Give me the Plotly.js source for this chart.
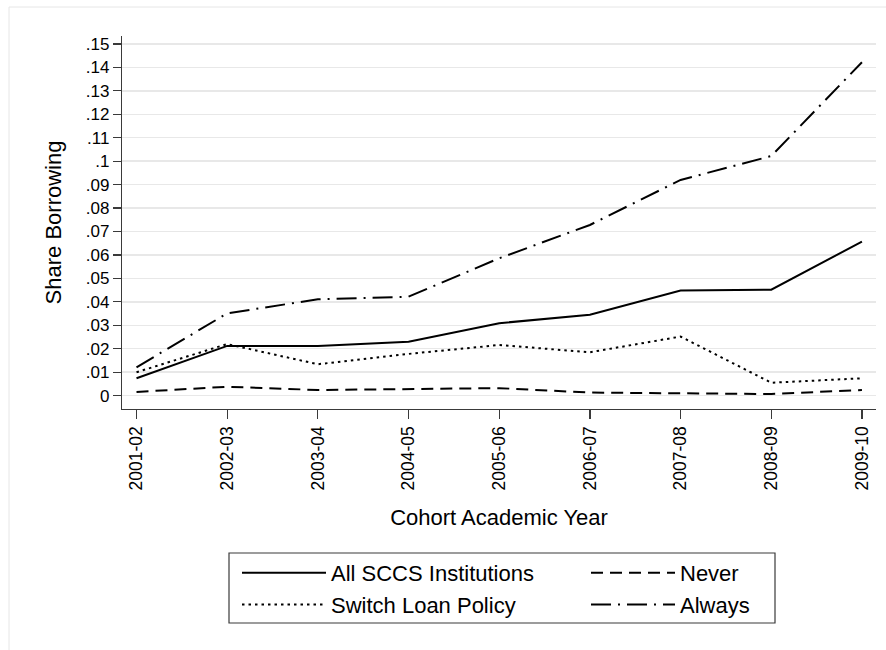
<!DOCTYPE html>
<html>
<head>
<meta charset="utf-8">
<script src="https://cdn.plot.ly/plotly-3.0.1.min.js"></script>
<style>html,body{margin:0;padding:0;background:#fff;}#chart{width:886px;height:650px;}</style>
</head>
<body>
<div id="chart"></div>
<script>
// ---- data ----
const years = ["2001-02","2002-03","2003-04","2004-05","2005-06","2006-07","2007-08","2008-09","2009-10"];
const allSCCS = [0.0074,0.0212,0.0212,0.0230,0.0309,0.0345,0.0448,0.0452,0.0657];
const switchPolicy = [0.0100,0.0220,0.0134,0.0178,0.0216,0.0185,0.0252,0.0055,0.0074];
const never = [0.0016,0.0038,0.0024,0.0029,0.0032,0.0013,0.0010,0.0007,0.0024];
const always = [0.0121,0.0351,0.0411,0.0422,0.0586,0.0728,0.0920,0.1022,0.1422];
const yTickVals = [0,0.01,0.02,0.03,0.04,0.05,0.06,0.07,0.08,0.09,0.10,0.11,0.12,0.13,0.14,0.15];
const yTickText = ["0",".01",".02",".03",".04",".05",".06",".07",".08",".09",".1",".11",".12",".13",".14",".15"];
const seriesNames = ["All SCCS Institutions","Switch Loan Policy","Never","Always"];

const FONT = "Liberation Sans, Arial, Helvetica, sans-serif";
const lw = 2;

const traces = [
  {x: years, y: allSCCS, name: seriesNames[0], mode: "lines", legend: "legend",
   line: {color: "#000", width: lw, dash: "solid"}},
  {x: years, y: switchPolicy, name: seriesNames[1], mode: "lines", legend: "legend",
   line: {color: "#000", width: lw, dash: "2.5px,4px"}},
  {x: years, y: never, name: seriesNames[2], mode: "lines", legend: "legend2",
   line: {color: "#000", width: lw, dash: "12px,7px"}},
  {x: years, y: always, name: seriesNames[3], mode: "lines", legend: "legend2",
   line: {color: "#000", width: lw, dash: "20px,7px,2px,7px"}}
];

// plot area in pixels: x 122..876, y 36..409
const px2x = p => (p - 122) / 754;
const px2y = p => (409 - p) / 373;

const legendCommon = {
  orientation: "v", xanchor: "left", yanchor: "top",
  bgcolor: "rgba(0,0,0,0)", borderwidth: 0,
  font: {family: FONT, size: 22, color: "#000"},
  itemwidth: 84, tracegroupgap: 0
};

const layout = {
  width: 886, height: 650,
  margin: {l: 122, r: 10, t: 36, b: 241},
  paper_bgcolor: "#fff", plot_bgcolor: "#fff",
  font: {family: FONT, color: "#000"},
  showlegend: true,
  xaxis: {
    type: "category",
    range: [-0.16, 8.155],
    showgrid: false, zeroline: false,
    showline: true, linecolor: "#3a3a3a", linewidth: 1.2,
    ticks: "outside", ticklen: 9, tickwidth: 1.2, tickcolor: "#3a3a3a",
    tickangle: -90,
    tickfont: {family: FONT, size: 17.5, color: "#000"},
    title: {text: "Cohort Academic Year", font: {family: FONT, size: 22, color: "#000"}, standoff: 20},
    automargin: false, fixedrange: true
  },
  yaxis: {
    range: [-0.0057, 0.1534],
    tickmode: "array", tickvals: yTickVals, ticktext: yTickText,
    showgrid: true, gridcolor: "#e8e8e8", gridwidth: 1.4,
    zeroline: false,
    showline: true, linecolor: "#3a3a3a", linewidth: 1.2,
    ticks: "outside", ticklen: 8, tickwidth: 1.2, tickcolor: "#3a3a3a",
    tickfont: {family: FONT, size: 17, color: "#000"},
    title: {text: "Share Borrowing", font: {family: FONT, size: 22, color: "#000"}, standoff: 18},
    automargin: false, fixedrange: true
  },
  legend: Object.assign({}, legendCommon, {x: px2x(237), y: px2y(552)}),
  legend2: Object.assign({}, legendCommon, {x: px2x(586), y: px2y(552)}),
  shapes: [
    // legend frame
    {type: "rect", xref: "paper", yref: "paper", x0: px2x(229), x1: px2x(775), y0: px2y(553), y1: px2y(623),
     line: {color: "#3a3a3a", width: 1.2}, fillcolor: "rgba(0,0,0,0)"},
    // outer graph-region frame (top and left edges visible)
    {type: "line", xref: "paper", yref: "paper", x0: px2x(9), x1: px2x(886), y0: px2y(7), y1: px2y(7),
     line: {color: "#e6e6e6", width: 1}},
    {type: "line", xref: "paper", yref: "paper", x0: px2x(9), x1: px2x(9), y0: px2y(7), y1: px2y(650),
     line: {color: "#e6e6e6", width: 1}}
  ]
};

Plotly.newPlot("chart", traces, layout, {displayModeBar: false, staticPlot: true});
</script>
</body>
</html>
